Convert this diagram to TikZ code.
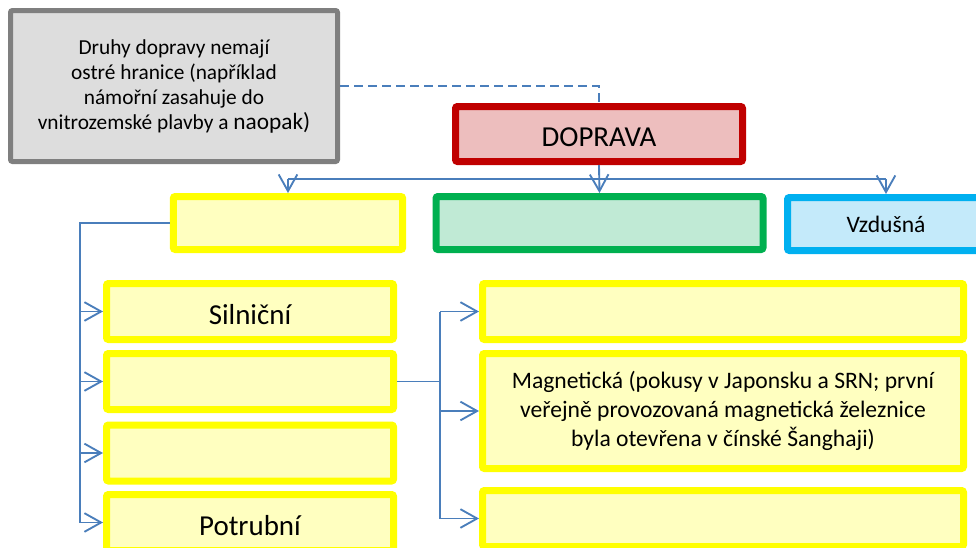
\documentclass[tikz,border=0pt]{standalone}
\usepackage{fontspec}
\setmainfont{Carlito}
\usetikzlibrary{arrows.meta}
\definecolor{sedaCara}{HTML}{7F7F7F}
\definecolor{sedaVypln}{HTML}{DDDDDD}
\definecolor{cervenaCara}{HTML}{C00000}
\definecolor{cervenaVypln}{HTML}{EDBEBE}
\definecolor{zelenaCara}{HTML}{00B050}
\definecolor{zelenaVypln}{HTML}{C0EAD5}
\definecolor{modraCara}{HTML}{00B0F0}
\definecolor{modraVypln}{HTML}{C4EAFA}
\definecolor{zlutaCara}{HTML}{FFFF00}
\definecolor{zlutaVypln}{HTML}{FFFFC0}
\definecolor{spojnice}{HTML}{4A7EBB}
\begin{document}
\begin{tikzpicture}[x=0.75pt,y=-0.75pt,
box/.style={draw, line width=5.25pt, rounded corners=1.5pt, inner sep=0pt, align=center},
zluty/.style={box, draw=zlutaCara, fill=zlutaVypln},
velky/.style={font=\fontsize{21.7}{26}\selectfont, text height=19pt, text depth=0pt},
stredni/.style={font=\fontsize{17.7}{21.5}\selectfont},
spoj/.style={draw=spojnice, line width=1.4pt},
sipka/.style={spoj, -{Straight Barb[length=12.5pt,width=14pt]}},
carkovana/.style={draw=spojnice, line width=1.3pt, dash pattern=on 6.5pt off 4pt}]
\useasboundingbox (0,0) rectangle (976,547);

\node[box, draw=sedaCara, fill=sedaVypln, line width=3.75pt, minimum width=245.25pt, minimum height=113.25pt, font=\fontsize{16}{18.75}\selectfont] (poznamka) at (174,86)
{Druhy dopravy nemají\\ostré hranice (například\\námořní zasahuje do\\vnitrozemské plavby a {\fontsize{17.5}{18.75}\selectfont naopak)}};
\node[box, draw=cervenaCara, fill=cervenaVypln, minimum width=215.25pt, minimum height=41.25pt, velky] (doprava) at (599,134) {DOPRAVA};

\node[zluty, minimum width=172pt, minimum height=39.75pt] (suchozemska) at (288,223) {};
\node[box, draw=zelenaCara, fill=zelenaVypln, minimum width=245.25pt, minimum height=39.75pt] (vodni) at (599.5,223) {};
\node[box, draw=modraCara, fill=modraVypln, minimum width=147.75pt, minimum height=39.75pt, stredni] (vzdusna) at (886,224) {Vzdušná};

\node[zluty, minimum width=215.25pt, minimum height=42pt, velky] (silnicni) at (250,311.5) {Silniční};
\node[zluty, minimum width=215.25pt, minimum height=42pt] (zeleznicni) at (250,381.5) {};
\node[zluty, minimum width=215.25pt, minimum height=42pt] (treti) at (250,453) {};
\node[zluty, minimum width=215.25pt, minimum height=42pt, velky] (potrubni) at (250,522.5) {Potrubní};

\node[zluty, minimum width=360.75pt, minimum height=42pt] (klasicka) at (723,311.5) {};
\node[zluty, minimum width=360.75pt, minimum height=86.25pt, stredni] (magneticka) at (723,411)
{Magnetická (pokusy v Japonsku a SRN; první\\veřejně provozovaná magnetická železnice\\byla otevřena v čínské Šanghaji)};
\node[zluty, minimum width=360.75pt, minimum height=42pt] (posledni) at (723,518.5) {};

\coordinate (uzel) at (599,179);
\coordinate (levy) at (80,0);
\coordinate (pravy) at (440,0);

\draw[carkovana] (poznamka.east) -| (doprava.north);
\draw[sipka] (doprava.south) -- (vodni.north);
\draw[spoj] (uzel -| suchozemska.north) -- (uzel -| vzdusna.north);
\draw[sipka] (uzel -| suchozemska.north) -- (suchozemska.north);
\draw[sipka] (uzel -| vzdusna.north) -- (vzdusna.north);

\draw[spoj] (suchozemska.west) -| (levy |- potrubni.west);
\draw[sipka] (levy |- silnicni.west) -- (silnicni.west);
\draw[sipka] (levy |- zeleznicni.west) -- (zeleznicni.west);
\draw[sipka] (levy |- treti.west) -- (treti.west);
\draw[sipka] (levy |- potrubni.west) -- (potrubni.west);

\draw[spoj] (zeleznicni.east) -- (pravy |- zeleznicni.east);
\draw[spoj] (pravy |- klasicka.west) -- (pravy |- posledni.west);
\draw[sipka] (pravy |- klasicka.west) -- (klasicka.west);
\draw[sipka] (pravy |- magneticka.west) -- (magneticka.west);
\draw[sipka] (pravy |- posledni.west) -- (posledni.west);
\end{tikzpicture}
\end{document}
